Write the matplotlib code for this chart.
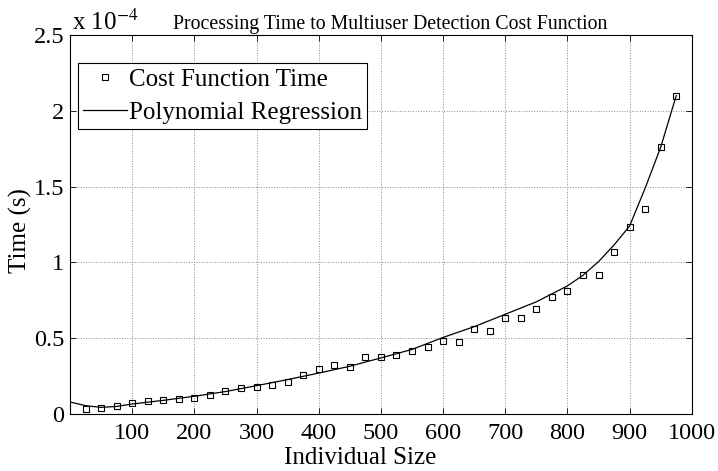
import numpy as np
import matplotlib.pyplot as plt

plt.rcParams['font.family'] = ['Liberation Serif', 'DejaVu Serif']
plt.rcParams['mathtext.fontset'] = 'stix'

# measured times, in units of 1e-4 s
sizes = [25, 50, 75, 100, 125, 150, 175, 200, 225, 250, 275, 300, 325, 350,
         375, 400, 425, 450, 475, 500, 525, 550, 575, 600, 625, 650, 675, 700,
         725, 750, 775, 800, 825, 850, 875, 900, 925, 950, 975]
times = [0.033, 0.040, 0.053, 0.075, 0.086, 0.090, 0.099, 0.106, 0.123, 0.154,
         0.172, 0.181, 0.192, 0.212, 0.260, 0.300, 0.322, 0.311, 0.375, 0.379,
         0.390, 0.415, 0.444, 0.483, 0.477, 0.563, 0.550, 0.631, 0.631, 0.695,
         0.770, 0.812, 0.914, 0.920, 1.068, 1.234, 1.355, 1.764, 2.100]

# regression curve
fit_x = [0, 25, 50, 75, 100, 150, 200, 250, 300, 350, 400, 450, 500, 550,
         600, 650, 700, 750, 800, 825, 850, 875, 900, 925, 950, 975]
fit_y = [0.079, 0.055, 0.044, 0.050, 0.066, 0.090, 0.117, 0.148, 0.187,
         0.227, 0.270, 0.315, 0.370, 0.426, 0.505, 0.576, 0.658, 0.740,
         0.845, 0.915, 1.005, 1.115, 1.240, 1.490, 1.760, 2.100]

xticks = [100, 200, 300, 400, 500, 600, 700, 800, 900, 1000]
yticks = [0, 0.5, 1, 1.5, 2, 2.5]

fig = plt.figure(figsize=(7.18, 4.71), dpi=100)
ax = fig.add_axes([0.0975, 0.121, 0.866, 0.8047])

ax.plot(sizes, times, 's', mfc='none', mec='black', ms=5, mew=0.8,
        label='Cost Function Time')
ax.plot(fit_x, fit_y, '-', color='black', lw=0.9, label='Polynomial Regression')

ax.set_xlim(0, 1000)
ax.set_ylim(0, 2.5)
ax.set_xticks(xticks)
ax.set_yticks(yticks)
ax.set_yticklabels(['0', '0.5', '1', '1.5', '2', '2.5'])
ax.tick_params(direction='in', top=True, right=True, length=4, width=0.6,
               labelsize=17.5)
ax.tick_params(axis='x', pad=6.5)
ax.tick_params(axis='y', pad=4)
ax.grid(True, linestyle=':', color='#888888', linewidth=0.7)
for s in ax.spines.values():
    s.set_linewidth(0.8)

ax.set_xlabel('Individual Size', fontsize=18)
ax.xaxis.set_label_coords(0.466, -0.087)
ax.set_ylabel('Time (s)', fontsize=18)
ax.yaxis.set_label_coords(-0.061, 0.483)
ax.set_title('Processing Time to Multiuser Detection Cost Function',
             fontsize=14.3, pad=4, x=0.5145)
ax.text(0.004, 1.0, r'x 10$^{-4}$', transform=ax.transAxes, fontsize=18,
        ha='left', va='bottom')

leg = ax.legend(loc='upper left', bbox_to_anchor=(0.0129, 0.926),
                borderaxespad=0, fancybox=False, edgecolor='black',
                framealpha=1, fontsize=18, numpoints=1, handlelength=1.75,
                handletextpad=0.1, labelspacing=0.44, borderpad=0.2)
leg.get_frame().set_linewidth(0.8)

fig.savefig('out.png', dpi=100)
